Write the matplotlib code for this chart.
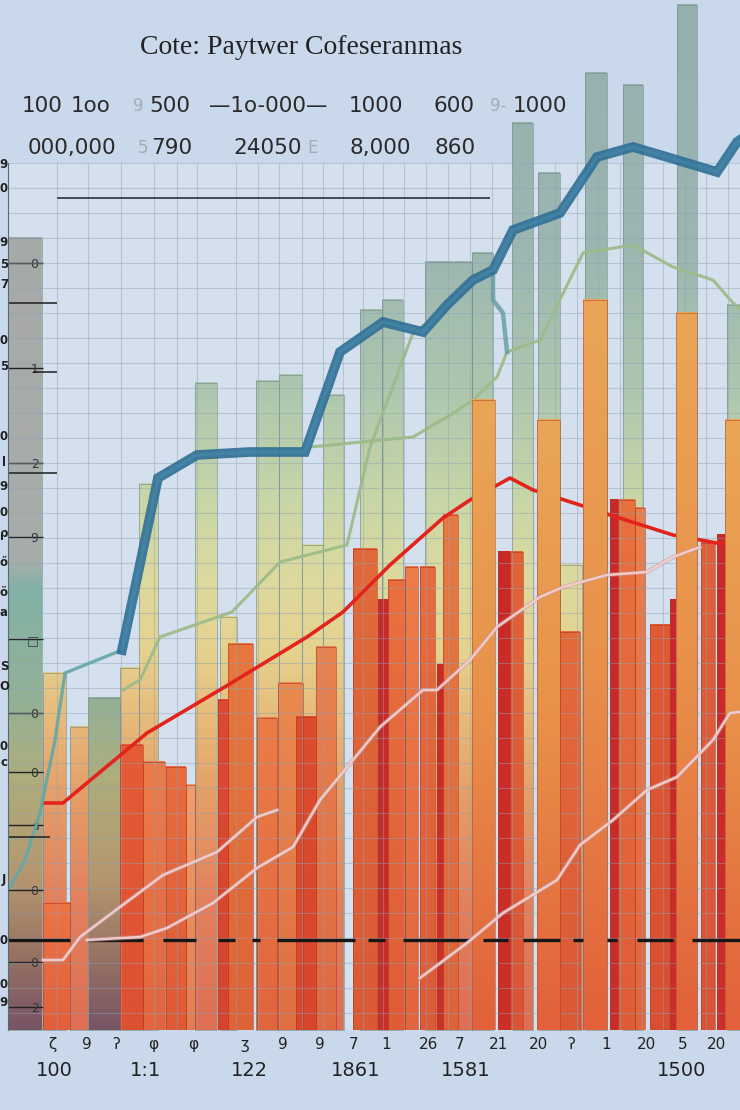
import numpy as np
import matplotlib
matplotlib.use('Agg')
import matplotlib.pyplot as plt
from matplotlib.colors import LinearSegmentedColormap, Normalize, to_rgb

plt.rcParams['lines.scale_dashes'] = False

# ---- data (x in chart units, values above the baseline) ----
title = 'Cote: Paytwer Cofeseranmas'

# back (tall, pale) bars
back_left = [8, 43, 70, 88, 120, 139, 195, 220, 256, 279, 302, 323, 360, 382,
             425, 472, 512, 538, 560, 585, 623, 677, 727]
back_width = [34, 23, 18, 32, 19, 19, 22, 17, 23, 23, 21, 21, 22, 21,
              47, 21, 21, 22, 22, 22, 20, 20, 13]
back_height = [792, 357, 303, 332, 362, 546, 647, 413, 649, 655, 485, 635, 720, 730,
               768, 777, 907, 857, 465, 957, 945, 1025, 725]
back_dark = [True, False, False, True] + [False] * 19

# front (orange / red) bars
front_left = [43, 120, 143, 166, 186, 218, 228, 257, 278, 296, 316, 353, 378, 388,
              405, 420, 437, 443, 498, 510, 560, 610, 618, 635, 650, 670, 701, 717]
front_width = [27, 23, 22, 20, 9, 10, 25, 20, 25, 20, 20, 24, 10, 17,
               13, 15, 6, 15, 12, 13, 20, 8, 17, 10, 20, 7, 14, 8]
front_height = [127, 285, 268, 263, 245, 330, 386, 312, 347, 313, 383, 481, 430, 450,
                463, 463, 365, 515, 478, 478, 398, 530, 530, 522, 405, 430, 487, 495]
front_color = ['#ec7444', '#e65c36', '#ec7c4a', '#e86c3e', '#f0a068', '#dd4a30',
               '#e8783e', '#ec7c46', '#ea8a4e', '#de4c2e', '#e88250', '#e26a3a',
               '#c8282a', '#e8703e', '#ec7c4a', '#e66c3e', '#c92a28', '#e67a42',
               '#c92a28', '#e26238', '#e46a3c', '#c9282a', '#e8703e', '#ec7e48',
               '#e05a34', '#c8282a', '#e0603a', '#c9282a']

# tall front bars (in front of the red line)
tall_left = [472, 537, 583, 676, 725]
tall_width = [23, 23, 24, 21, 15]
tall_height = [630, 610, 730, 717, 610]

# lines
teal_x = [10, 25, 40, 55, 65, 122]
teal_y = [143, 170, 217, 290, 357, 380]
blue_x = [122, 158, 197, 250, 305, 340, 383, 423, 447, 473, 493, 513, 560, 597,
          633, 667, 717, 737, 740]
blue_y = [380, 552, 575, 578, 578, 678, 708, 698, 725, 750, 760, 800, 817, 873,
          883, 873, 858, 888, 890]
squiggle_x = [493, 493, 503, 507]
squiggle_y = [755, 730, 717, 678]
green1_x = [123, 140, 160, 232, 280, 347, 370, 413, 428]
green1_y = [340, 350, 393, 418, 468, 485, 583, 697, 708]
green2_x = [310, 413, 447, 473, 497, 507, 540, 583, 633, 673, 713, 733, 740]
green2_y = [583, 593, 613, 630, 653, 678, 690, 777, 785, 763, 750, 727, 722]
red_x = [43, 63, 147, 223, 307, 343, 390, 443, 470, 510, 533, 580, 610, 673, 717, 740]
red_y = [227, 227, 297, 342, 393, 418, 465, 512, 530, 552, 540, 525, 515, 495, 487, 485]
pinkA_x = [43, 63, 80, 120, 163, 217, 257, 277]
pinkA_y = [70, 70, 93, 123, 155, 178, 213, 220]
pinkB_x = [87, 140, 167, 213, 257, 293, 320, 353, 380, 423, 437, 470, 497, 540,
           563, 607, 647, 673, 700]
pinkB_y = [90, 93, 102, 127, 162, 183, 230, 270, 303, 340, 340, 370, 403, 433,
           443, 455, 458, 473, 483]
pinkC_x = [420, 467, 503, 557, 580, 613, 647, 677, 713, 730, 740]
pinkC_y = [52, 87, 117, 150, 185, 210, 240, 253, 290, 317, 318]
dash_level = 90
rule_level = 832

# ticks / labels
ytick_pos = [767, 662, 567, 493, 391, 317, 258, 205, 140, 68, 23]
ytick_lab = ['0', '1', '2', '9', '□', '0', '0', 's', '0', '0', '2']
edge_char_y = [165, 188, 243, 265, 285, 340, 367, 437, 462, 487, 512, 533, 563,
               593, 613, 667, 687, 747, 762, 880, 940, 985, 1003]
edge_chars = ['9', '0', '9', '5', '7', '0', '5', '0', 'l', '9', '0', 'ρ', 'ő',
              'ö', 'a', 'S', 'O', '0', 'c', 'J', '0', '0', '9']
xtick1_pos = [52, 87, 116, 153, 193, 245, 283, 320, 354, 386, 429, 460, 498,
              538, 571, 606, 647, 683, 716]
xtick1_lab = ['ζ', '9', 'ʔ', 'φ', 'φ', 'ʒ', '9', '9', '7', '1', '26', '7', '21',
              '20', 'ʔ', '1', '20', '5', '20']
xtick2_pos = [54, 146, 249, 356, 466, 571, 682]
xtick2_lab = ['100', '1:1', '122', '1861', '1581', '1101', '1500']
row1_x = [42, 91, 170, 268, 376, 454, 540]
row1_lab = ['100', '1oo', '500', '—1o-000—', '1000', '600', '1000']
row2_x = [72, 172, 268, 380, 455]
row2_lab = ['000,000', '790', '24050', '8,000', '860']
faint_x = [138, 498, 143, 313]
faint_y = [106, 106, 148, 148]
faint_lab = ['9', '9-', '5', 'E']
grid_x = [57, 88, 121, 154, 177, 197, 236, 258, 279, 302, 323, 343, 363, 383,
          404, 426, 448, 470, 492, 512, 533, 555, 577, 598, 620, 642, 663, 685,
          706, 728]

# ---- styles ----
W, H = 740, 1110
bg = '#c9d9eb'
back_cmap = LinearSegmentedColormap.from_list('back', [
    (0.0, '#e05a38'), (0.126, '#e67042'), (0.223, '#e89250'), (0.301, '#ebb466'),
    (0.369, '#e9d07f'), (0.437, '#dfd990'), (0.515, '#c7d59b'), (0.612, '#a9c4a3'),
    (0.757, '#92afa6'), (1.0, '#8ba8a3')])
dark_cmap = LinearSegmentedColormap.from_list('dark', [
    (0.0, '#683c4c'), (0.068, '#8c5e4a'), (0.146, '#b08a58'), (0.243, '#a8a468'),
    (0.320, '#88a888'), (0.427, '#72aa98'), (0.456, '#a0a39e'), (1.0, '#9c9e9b')])
norm = Normalize(0, 1030)


def mix(c1, c2, t):
    a, b = np.array(to_rgb(c1)), np.array(to_rgb(c2))
    return tuple(a * (1 - t) + b * t)


def grad_bar(ax, left, width, height, cmap, nrm, z, alpha=1.0):
    grad = np.linspace(height, 0, 256).reshape(-1, 1)
    ax.imshow(grad, cmap=cmap, norm=nrm, extent=(left, left + width, 0, height),
              aspect='auto', origin='upper', zorder=z, alpha=alpha,
              interpolation='bilinear', clip_on=False)


fig = plt.figure(figsize=(W / 100, H / 100), dpi=100, facecolor=bg)
ax = fig.add_axes([8 / W, 80 / H, 732 / W, 867 / H])
ax.set_facecolor('#d4e0ed')

# back bars
for l, w, h, d in zip(back_left, back_width, back_height, back_dark):
    grad_bar(ax, l, w, h, dark_cmap if d else back_cmap, norm, 1, alpha=0.85)
ax.bar(back_left, back_height, back_width, align='edge', fill=False,
       edgecolor='#6f8c88', linewidth=0.7, alpha=0.6, zorder=1.1, clip_on=False)

# front bars
for l, w, h, c in zip(front_left, front_width, front_height, front_color):
    cm = LinearSegmentedColormap.from_list('f', [mix(c, '#cc3a2a', 0.35), c])
    grad_bar(ax, l, w, h, cm, Normalize(0, h), 2)
ax.bar(front_left, front_height, front_width, align='edge', fill=False,
       edgecolor='#b33a22', linewidth=0.6, alpha=0.7, zorder=2.1)

# grid
ax.hlines(np.arange(17, 868, 25), 8, 740, color='#8fa3b5', linewidth=0.8,
          alpha=0.45, zorder=2.2)
ax.vlines(grid_x, 0, 867, color='#8fa3b5', linewidth=0.8, alpha=0.45, zorder=2.2)

# lines
ax.plot(green1_x, green1_y, color='#9dbb8a', lw=2.2, alpha=0.95, zorder=3, clip_on=False)
ax.plot(green2_x, green2_y, color='#9dbb8a', lw=2.2, alpha=0.95, zorder=3, clip_on=False)
ax.plot(red_x, red_y, color='#e3241c', lw=2.6, zorder=3.2, clip_on=False)

# tall front bars over the red line
for l, w, h in zip(tall_left, tall_width, tall_height):
    cm = LinearSegmentedColormap.from_list('t', ['#e2603a', '#e8904a', '#eaa656'])
    grad_bar(ax, l, w, h, cm, Normalize(0, h), 3.4)
ax.bar(tall_left, tall_height, tall_width, align='edge', fill=False,
       edgecolor='#b8502a', linewidth=0.6, alpha=0.7, zorder=3.5)

ax.plot(teal_x, teal_y, color='#62a8a8', lw=2.4, alpha=0.9, zorder=4, clip_on=False)
ax.plot(squiggle_x, squiggle_y, color='#6b9fa6', lw=3.2, alpha=0.85, zorder=4,
        clip_on=False)
ax.plot(blue_x, blue_y, color='#2f6f96', lw=7, alpha=0.9, zorder=4.2, clip_on=False,
        solid_joinstyle='miter')
ax.plot(blue_x, blue_y, color='#4a8fb0', lw=2.5, alpha=0.45, zorder=4.3, clip_on=False)

dash_px = [62, 18, 55, 20, 33, 22, 17, 17, 8, 17, 78, 13, 17, 18, 67, 13, 25, 15,
           37, 13, 10, 24, 10, 20, 36, 19, 48, 20]
ax.axhline(dash_level, color='#161616', lw=2.4, zorder=5,
           dashes=[d * 0.72 for d in dash_px])
ax.hlines(rule_level, 57, 490, color='#34414a', lw=1.3, zorder=5)
ax.hlines([727, 557, 193], 8, [57, 57, 50], color='#1e1e1e', lw=1.1, zorder=5)
ax.hlines(658, 33, 57, color='#1e1e1e', lw=1.1, zorder=5)

for xs, ys in [(pinkA_x, pinkA_y), (pinkB_x, pinkB_y), (pinkC_x, pinkC_y)]:
    ax.plot(xs, ys, color='#c99494', lw=3.2, alpha=0.5, zorder=6, clip_on=False)
    ax.plot(xs, ys, color='#f2cfcf', lw=1.8, alpha=0.95, zorder=6.1, clip_on=False)

# axes
ax.set_xlim(8, 740)
ax.set_ylim(0, 867)
for s in ['top', 'right', 'bottom']:
    ax.spines[s].set_visible(False)
ax.spines['left'].set_color('#5a6a75')
ax.spines['left'].set_zorder(5)

ax.set_yticks(ytick_pos)
ax.set_yticklabels(ytick_lab)
ax.tick_params(axis='y', direction='in', length=25, width=1, color='#222222',
               pad=-22, labelsize=9, labelcolor='#333333')

ax.set_xticks(xtick1_pos)
ax.set_xticklabels(xtick1_lab)
ax.set_xticks(xtick2_pos, minor=True)
ax.set_xticklabels(xtick2_lab, minor=True)
ax.tick_params(axis='x', which='major', length=0, pad=5, labelsize=11,
               labelcolor='#222222')
ax.tick_params(axis='x', which='minor', length=0, pad=22, labelsize=14,
               labelcolor='#222222')

# texts
fig.text(301 / W, 1 - 48 / H, title, family='Liberation Serif', fontsize=20,
         ha='center', va='center', color='#222222')
for x, s in zip(row1_x, row1_lab):
    fig.text(x / W, 1 - 106 / H, s, fontsize=15.5, ha='center', va='center',
             color='#2a2a2a')
for x, s in zip(row2_x, row2_lab):
    fig.text(x / W, 1 - 148 / H, s, fontsize=15.5, ha='center', va='center',
             color='#2a2a2a')
for x, y, s in zip(faint_x, faint_y, faint_lab):
    fig.text(x / W, 1 - y / H, s, fontsize=12, ha='center', va='center',
             color='#a0acb6')
for y, s in zip(edge_char_y, edge_chars):
    fig.text(4 / W, 1 - y / H, s, fontsize=8.5, ha='center', va='center',
             color='#222222', fontweight='bold')

fig.savefig('out.png', dpi=100, facecolor=fig.get_facecolor())
